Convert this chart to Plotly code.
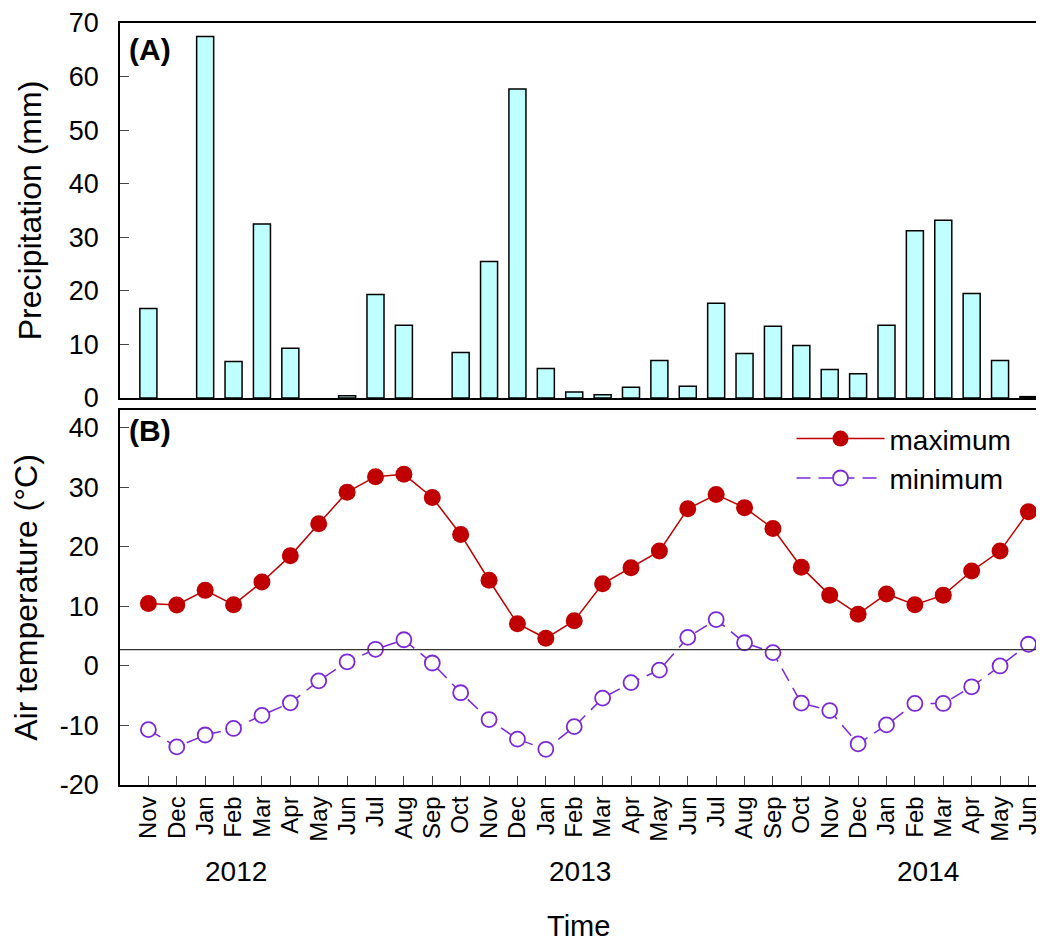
import plotly.graph_objects as go

months = ["Nov", "Dec", "Jan", "Feb", "Mar", "Apr", "May", "Jun", "Jul", "Aug", "Sep", "Oct",
          "Nov", "Dec", "Jan", "Feb", "Mar", "Apr", "May", "Jun", "Jul", "Aug", "Sep", "Oct",
          "Nov", "Dec", "Jan", "Feb", "Mar", "Apr", "May", "Jun"]
precip = [16.7, 0, 67.5, 6.8, 32.5, 9.3, 0, 0.4, 19.3, 13.6, 0, 8.5, 25.5, 57.7,
          5.5, 1.1, 0.6, 2.0, 7.0, 2.2, 17.7, 8.3, 13.4, 9.8, 5.3, 4.5,
          13.6, 31.2, 33.2, 19.5, 7.0, 0.25]
tmax = [10.5, 10.25, 12.7, 10.3, 14.1, 18.5, 23.9, 29.2, 31.8, 32.2, 28.3, 22.1, 14.4, 7.1,
        4.65, 7.6, 13.8, 16.5, 19.3, 26.4, 28.8, 26.6, 23.1, 16.6, 11.9, 8.7,
        12.1, 10.3, 11.9, 15.95, 19.3, 25.9]
tmin = [-10.7, -13.6, -11.6, -10.5, -8.3, -6.2, -2.5, 0.7, 2.8, 4.4, 0.5, -4.5, -9.0, -12.3,
        -14.0, -10.2, -5.4, -2.8, -0.7, 4.8, 7.8, 3.9, 2.25, -6.25, -7.5, -13.1,
        -9.9, -6.3, -6.3, -3.5, 0.0, 3.65]
ref_line = 2.75
years = ["2012", "2013", "2014"]
year_pos = [3.1, 15.2, 27.45]
precip_ticks = [0, 10, 20, 30, 40, 50, 60, 70]
temp_ticks = [-20, -10, 0, 10, 20, 30, 40]

x = list(range(len(months)))
FONT = "Arial, Liberation Sans, sans-serif"
precip_plot = [v if v > 0 else None for v in precip]

fig = go.Figure()
fig.add_trace(go.Bar(x=x, y=precip_plot, width=0.6, marker=dict(color="#BFFFFF", line=dict(color="black", width=1.5)),
                     showlegend=False, xaxis="x", yaxis="y"))
fig.add_trace(go.Scatter(x=x, y=tmax, mode="lines+markers", name="maximum",
                         line=dict(color="#C00000", width=1.5),
                         marker=dict(symbol="circle", size=17, color="#C00000"),
                         xaxis="x2", yaxis="y2"))
fig.add_trace(go.Scatter(x=x, y=tmin, mode="lines+markers", name="minimum",
                         line=dict(color="#7A28D8", width=1.5, dash="14px,8px"),
                         marker=dict(symbol="circle", size=15, color="white", line=dict(color="#7A28D8", width=1.8)),
                         xaxis="x2", yaxis="y2"))

xr = [-1, 31.83]
fig.update_layout(
    width=1044, height=943,
    margin=dict(l=112, r=0, t=15, b=166),
    plot_bgcolor="white", paper_bgcolor="white",
    font=dict(family=FONT, color="black"),
    xaxis=dict(domain=[0, 1], range=xr, anchor="y", showticklabels=False, ticks="",
               showline=True, linecolor="black", linewidth=1.5, mirror=True, showgrid=False, zeroline=False),
    yaxis=dict(domain=[0.5079, 1], range=[0, 70], tickvals=precip_ticks, ticktext=[str(v) for v in precip_ticks],
               ticks="inside", ticklen=9, tickwidth=1.2, ticklabelstandoff=14,
               showline=True, linecolor="black", linewidth=1.5, showgrid=False, zeroline=False,
               tickfont=dict(size=27),
               title=dict(text="Precipitation (mm)", font=dict(size=32), standoff=18)),
    xaxis2=dict(domain=[0, 1], range=xr, anchor="y2", tickmode="array", tickvals=x, ticktext=months,
                tickangle=-90, ticks="inside", ticklen=9, tickwidth=1.2, tickfont=dict(size=24),
                showline=True, linecolor="black", linewidth=1.5, mirror=True, showgrid=False, zeroline=False),
    yaxis2=dict(domain=[0, 0.4921], range=[-20, 43], tickvals=temp_ticks, ticktext=[str(v) for v in temp_ticks],
                ticks="inside", ticklen=9, tickwidth=1.2, ticklabelstandoff=14,
                showline=True, linecolor="black", linewidth=1.5, showgrid=False, zeroline=False,
                tickfont=dict(size=27),
                title=dict(text="Air temperature (°C)", font=dict(size=32), standoff=18)),
    legend=dict(x=0.7205, y=0.487, xanchor="left", yanchor="top", font=dict(size=28),
                bgcolor="rgba(0,0,0,0)", itemwidth=88, tracegroupgap=0),
    bargap=0.4,
)
fig.add_shape(type="line", xref="x2 domain", yref="y2", x0=0, x1=1, y0=ref_line, y1=ref_line,
              line=dict(color="#333333", width=1.2))
fig.add_annotation(text="<b>(A)</b>", xref="paper", yref="paper", x=0.007, y=0.99, xanchor="left", yanchor="top",
                   showarrow=False, font=dict(size=30))
fig.add_annotation(text="<b>(B)</b>", xref="paper", yref="paper", x=0.007, y=0.49, xanchor="left", yanchor="top",
                   showarrow=False, font=dict(size=30))
for yt, xp in zip(years, year_pos):
    fig.add_annotation(text=yt, xref="x2", yref="paper", x=xp, y=-0.114, yanchor="middle",
                       showarrow=False, font=dict(size=28))
fig.add_annotation(text="Time", xref="paper", yref="paper", x=(570 - 112) / 932, y=-0.185, yanchor="middle",
                   showarrow=False, font=dict(size=29))

fig.write_html("out.html")
